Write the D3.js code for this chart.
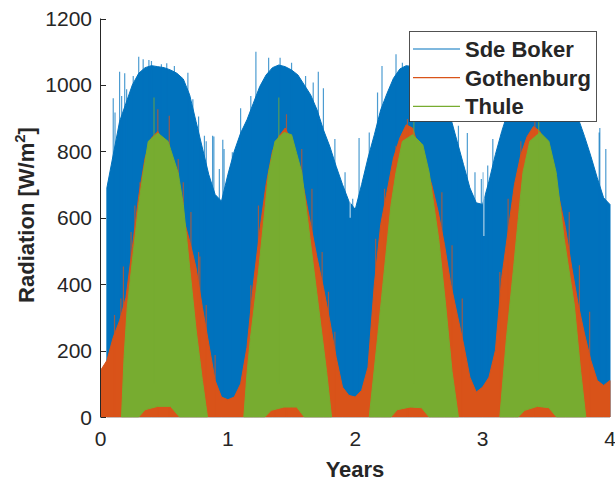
<!DOCTYPE html>
<html>
<head>
<meta charset="utf-8">
<script src="https://cdn.jsdelivr.net/npm/d3@7"></script>
<style>
  body { margin: 0; background: #fff; }
  svg { display: block; }
  text { font-family: "Liberation Sans", Arial, Helvetica, sans-serif; fill: #262626; }
</style>
</head>
<body>
<svg id="chart" width="615" height="483"></svg>
<script>
// ---- data -------------------------------------------------------------
const xTicks = [0, 1, 2, 3, 4];
const yTicks = [0, 200, 400, 600, 800, 1000, 1200];
const seriesNames = ["Sde Boker", "Gothenburg", "Thule"];
const seriesColors = ["#0072BD", "#D95319", "#77AC30"];

// Daily peak irradiance envelope (year, W/m^2)
const sdeBokerYears = [0.05,0.10,0.15,0.20,0.25,0.30,0.35,0.40,0.45,0.50,0.55,0.60,0.65,0.70,0.75,0.80,0.85,0.90,0.95,1.00,
  1.05,1.10,1.15,1.20,1.25,1.30,1.35,1.40,1.45,1.50,1.55,1.60,1.65,1.70,1.75,1.80,1.85,1.90,1.95,2.00,
  2.05,2.10,2.15,2.20,2.25,2.30,2.35,2.40,2.45,2.50,2.55,2.60,2.65,2.70,2.75,2.80,2.85,2.90,2.95,3.00,
  3.05,3.10,3.15,3.20,3.25,3.30,3.35,3.40,3.45,3.50,3.55,3.60,3.65,3.70,3.75,3.80,3.85,3.90,3.95,4.00];
const sdeBokerPeak = [690,790,890,945,1000,1035,1052,1058,1055,1052,1045,1035,1018,970,890,810,730,670,650,730,
  800,855,895,945,995,1030,1052,1060,1055,1045,1030,1000,970,925,865,815,755,700,650,625,
  700,780,850,925,975,1020,1048,1058,1055,1050,1040,1025,1000,960,900,830,760,690,645,640,
  710,790,860,920,975,1020,1045,1055,1055,1050,1040,1020,990,950,900,845,785,720,660,640];

const gothenburgYears = [0.00,0.05,0.10,0.15,0.20,0.25,0.30,0.35,0.40,0.45,0.50,0.55,0.60,0.65,0.70,0.75,0.80,0.85,0.90,0.95,
  1.00,1.05,1.10,1.15,1.20,1.25,1.30,1.35,1.40,1.45,1.50,1.55,1.60,1.65,1.70,1.75,1.80,1.85,1.90,1.95,
  2.00,2.05,2.10,2.15,2.20,2.25,2.30,2.35,2.40,2.45,2.50,2.55,2.60,2.65,2.70,2.75,2.80,2.85,2.90,2.95,
  3.00,3.05,3.10,3.15,3.20,3.25,3.30,3.35,3.40,3.45,3.50,3.55,3.60,3.65,3.70,3.75,3.80,3.85,3.90,3.95,4.00];
const gothenburgPeak = [140,170,240,290,360,510,665,780,840,860,820,780,700,600,530,450,330,220,110,60,
  52,60,100,210,400,560,700,800,845,870,830,770,680,580,480,390,290,180,90,65,
  60,80,150,400,580,680,780,840,880,870,810,760,700,620,520,400,310,220,120,75,
  90,120,200,420,560,700,790,845,875,860,800,740,660,570,450,340,250,170,110,95,110];

// Thule: daylight seasons only (polar night has no trace)
const thuleYears = [
  [0.165,0.185,0.21,0.25,0.30,0.335,0.375,0.45,0.53,0.61,0.65,0.70,0.75,0.80,0.84],
  [1.125,1.15,1.177,1.24,1.294,1.32,1.37,1.44,1.50,1.58,1.645,1.71,1.775,1.814],
  [2.11,2.175,2.227,2.28,2.32,2.37,2.45,2.53,2.58,2.655,2.71,2.76,2.81],
  [3.135,3.187,3.24,3.29,3.317,3.37,3.45,3.52,3.577,3.64,3.72,3.77,3.81]
];
const thulePeak = [
  [0,180,330,470,640,735,830,855,830,735,640,450,265,110,0],
  [0,130,237,437,637,737,830,857,850,737,537,337,137,0],
  [0,237,437,637,737,830,850,820,737,537,337,137,0],
  [0,237,437,637,737,830,857,830,737,537,337,137,0]
];
// Midnight-sun minimum for Thule (night-time floor above zero)
const thuleFloorYears = [
  [0.30,0.35,0.45,0.55,0.62],
  [1.29,1.34,1.44,1.54,1.60],
  [2.28,2.33,2.43,2.52,2.58],
  [3.28,3.33,3.43,3.52,3.58]
];
const thuleFloor = [
  [0,22,32,32,0],
  [0,20,30,30,0],
  [0,22,30,28,0],
  [0,20,32,28,0]
];

// Individual days standing out from the envelope (year, W/m^2)
const sdeBokerSpikeYears = [0.10,0.114,0.15,0.166,0.19,0.205,0.257,0.30,0.335,0.38,0.40,0.478,0.52,0.58,0.686,0.725,0.77,0.816,0.83,0.88,0.89,0.933,0.96,0.97,
  1.035,1.10,1.18,1.22,1.32,1.41,1.50,1.61,1.67,1.71,1.75,1.84,1.92,1.98,
  2.03,2.11,2.175,2.21,2.32,2.37,2.76,2.81,2.88,2.94,2.99,
  3.005,3.04,3.08,3.915,3.92,3.967];
const sdeBokerSpikes = [960,917,1040,967,1035,987,1027,1085,1077,1075,1072,1062,1065,1057,1037,957,905,847,830,847,845,747,835,807,
  797,930,967,1100,1082,1082,1067,1027,1007,1040,990,837,737,657,
  840,857,977,1057,1092,1067,880,877,855,737,717,
  737,757,837,857,870,807];
const gothenburgSpikeYears = [0.11,0.16,0.18,0.24,0.27,0.31,0.45,0.54,0.61,0.65,0.71,0.77,0.78,0.83,0.90,
  1.18,1.24,1.37,1.46,1.58,1.66,1.74,1.79,1.84,
  2.16,2.23,2.32,2.41,2.68,2.76,2.84,
  3.135,3.20,3.30,3.41,3.68,3.76,3.84];
const gothenburgSpikes = [307,357,453,557,637,707,927,907,777,707,617,497,483,337,187,
  397,637,817,912,807,687,497,377,257,
  537,687,817,897,677,517,357,
  437,657,830,900,617,457,317];
const thuleSpikeYears = [0.42,1.40,2.46,3.44];
const thuleSpikes     = [962,962,940,900];
// Overcast days cutting into the Sde Boker envelope
const sdeBokerDipYears = [3.01, 1.96];
const sdeBokerDips     = [545, 600];

// ---- layout -----------------------------------------------------------
const svg = d3.select("#chart");
const x = d3.scaleLinear().domain([0, 4]).range([100.5, 610]);
const y = d3.scaleLinear().domain([0, 1200]).range([417, 18.5]);

svg.append("defs").append("clipPath").attr("id", "plotClip")
  .append("rect").attr("x", 100.5).attr("y", 18.5).attr("width", 512).attr("height", 399);
const plot = svg.append("g").attr("clip-path", "url(#plotClip)");

const band = (yrs, hi) => yrs.map((t, i) => ({ t, hi: hi[i], lo: 0 }));
const area = d3.area().x(d => x(d.t)).y0(d => y(d.lo)).y1(d => y(d.hi));

function drawBand(pts, color) {
  plot.append("path").datum(pts).attr("d", area)
    .attr("fill", color).attr("stroke", color).attr("stroke-width", 1).attr("stroke-linejoin", "round");
}
function drawSpikes(yrs, vals, color, from) {
  plot.selectAll(null).data(yrs.map((t, i) => ({ t, v: vals[i] }))).enter().append("line")
    .attr("x1", d => x(d.t)).attr("x2", d => x(d.t))
    .attr("y1", y(from)).attr("y2", d => y(d.v))
    .attr("stroke", color).attr("stroke-width", 1.2).attr("stroke-opacity", 0.7);
}

// Sde Boker
drawBand(band(sdeBokerYears, sdeBokerPeak), seriesColors[0]);
drawSpikes(sdeBokerSpikeYears, sdeBokerSpikes, seriesColors[0], 0);
plot.selectAll(null).data(sdeBokerDipYears.map((t, i) => ({ t, v: sdeBokerDips[i] }))).enter().append("line")
  .attr("x1", d => x(d.t)).attr("x2", d => x(d.t))
  .attr("y1", d => y(d.v)).attr("y2", y(1200))
  .attr("stroke", "#fff").attr("stroke-width", 1).attr("stroke-opacity", 0.8);

// Gothenburg
drawBand(band(gothenburgYears, gothenburgPeak), seriesColors[1]);
drawSpikes(gothenburgSpikeYears, gothenburgSpikes, seriesColors[1], 0);

// Thule: season band between the night floor and the daily peak
thuleYears.forEach((yrs, k) => {
  const fy = thuleFloorYears[k], fv = thuleFloor[k], pv = thulePeak[k];
  const floorAt = d3.scaleLinear().domain(fy).range(fv).clamp(true);
  const peakAt = d3.scaleLinear().domain(yrs).range(pv).clamp(true);
  const ts = Array.from(new Set(yrs.concat(fy))).sort((a, b) => a - b);
  drawBand(ts.map(t => ({ t, hi: peakAt(t), lo: floorAt(t) })), seriesColors[2]);
});
drawSpikes(thuleSpikeYears, thuleSpikes, seriesColors[2], 100);

// ---- axes -------------------------------------------------------------
const axisColor = "#262626";
svg.append("line").attr("x1", 100.5).attr("x2", 100.5).attr("y1", y(1200)).attr("y2", y(0))
  .attr("stroke", axisColor).attr("stroke-width", 1);
svg.selectAll(".ytick").data(yTicks).enter().append("line")
  .attr("x1", 100.5).attr("x2", 106).attr("y1", d => Math.round(y(d)) + 0.5).attr("y2", d => Math.round(y(d)) + 0.5)
  .attr("stroke", axisColor).attr("stroke-width", 1);
svg.selectAll(".ylab").data(yTicks).enter().append("text")
  .attr("x", 92).attr("y", d => y(d) + 7.5).attr("text-anchor", "end")
  .attr("font-size", 21).text(d => d);
svg.selectAll(".xlab").data(xTicks).enter().append("text")
  .attr("x", d => x(d)).attr("y", 446).attr("text-anchor", "middle")
  .attr("font-size", 21).text(d => d);

svg.append("text").attr("x", 355).attr("y", 477).attr("text-anchor", "middle")
  .attr("font-size", 22).attr("font-weight", "bold").text("Years");

const ylab = svg.append("text").attr("transform", "translate(34,215) rotate(-90)")
  .attr("text-anchor", "middle").attr("font-size", 22).attr("font-weight", "bold");
ylab.append("tspan").text("Radiation [W/m");
ylab.append("tspan").attr("dy", -9).attr("font-size", 15).text("2");
ylab.append("tspan").attr("dy", 9).text("]");

// ---- legend -----------------------------------------------------------
const lg = svg.append("g");
lg.append("rect").attr("x", 409.5).attr("y", 31.5).attr("width", 187).attr("height", 90)
  .attr("fill", "#fff").attr("stroke", "#262626").attr("stroke-opacity", 0.8).attr("stroke-width", 1);
seriesNames.forEach((name, i) => {
  const cy = 49 + i * 28.7;
  lg.append("line").attr("x1", 413).attr("x2", 460).attr("y1", cy).attr("y2", cy)
    .attr("stroke", seriesColors[i]).attr("stroke-width", 1.2);
  lg.append("text").attr("x", 465).attr("y", cy + 8).attr("font-size", 22)
    .attr("font-weight", "bold").attr("fill", "#000").text(name);
});
</script>
</body>
</html>
